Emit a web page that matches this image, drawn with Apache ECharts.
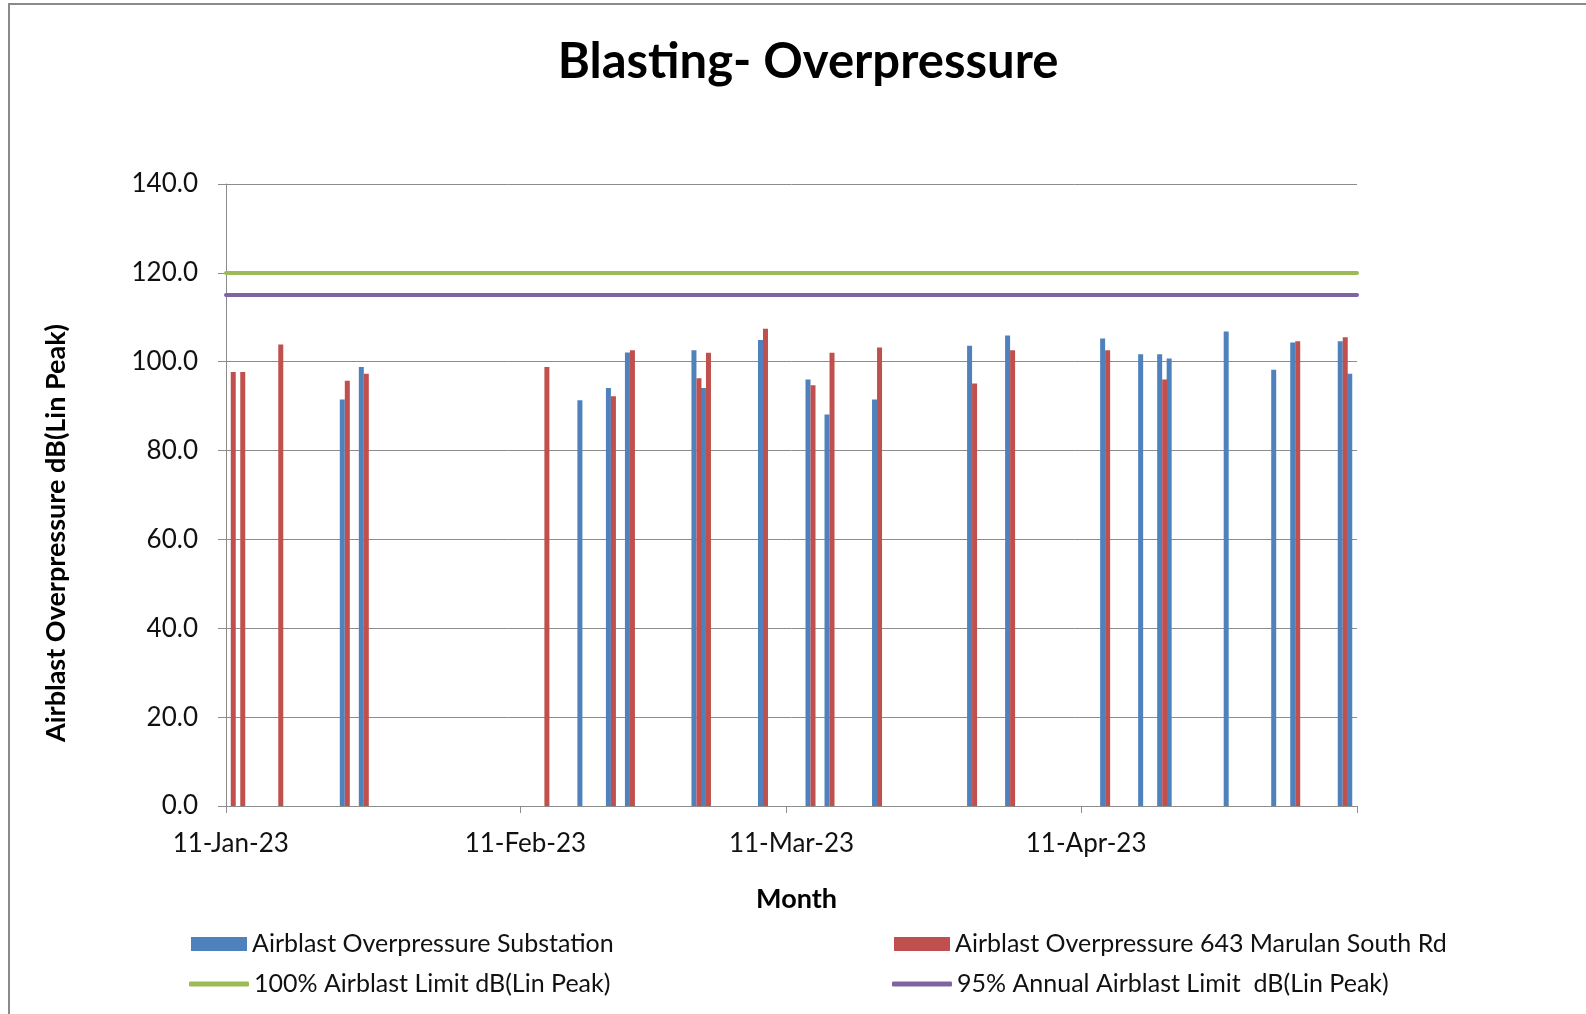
<!DOCTYPE html>
<html>
<head>
<meta charset="utf-8">
<title>Blasting- Overpressure</title>
<script src="https://cdn.jsdelivr.net/npm/echarts@6/dist/echarts.min.js"></script>
<style>
    html, body { margin: 0; padding: 0; background: #fff; }
    #chart { width: 1586px; height: 1014px; }
</style>
</head>
<body>
<div id="chart"></div>
<script>
    // days on which a blast was recorded by either monitor
    var blastDates = ['2023-01-11', '2023-01-12', '2023-01-16', '2023-01-23', '2023-01-25',
        '2023-02-13', '2023-02-17', '2023-02-20', '2023-02-22', '2023-03-01', '2023-03-02',
        '2023-03-08', '2023-03-13', '2023-03-15', '2023-03-20', '2023-03-30', '2023-04-03',
        '2023-04-13', '2023-04-17', '2023-04-19', '2023-04-20', '2023-04-26', '2023-05-01',
        '2023-05-03', '2023-05-08', '2023-05-09'];
    var substation = [null, null, null, 91.5, 98.8,
        null, 91.3, 94.1, 102.1, 102.6, 94.1,
        104.9, 96.0, 88.1, 91.5, 103.6, 105.9,
        105.2, 101.7, 101.7, 100.7, 106.8, 98.2,
        104.3, 104.6, 97.3];
    var marulan = [97.7, 97.7, 103.9, 95.7, 97.3,
        98.8, null, 92.2, 102.6, 96.3, 102.0,
        107.4, 94.7, 102.0, 103.2, 95.1, 102.6,
        102.6, null, 96.0, null, null, null,
        104.6, 105.5, null];
    var limit100 = 120;
    var limit95 = 115;

    // date axis: one slot per day, labelled on the 11th
    var axisStart = '2023-01-11';
    var axisEnd = '2023-05-09';
    var tickDates = ['2023-01-11', '2023-02-11', '2023-03-11', '2023-04-11'];
    var tickLabels = ['11-Jan-23', '11-Feb-23', '11-Mar-23', '11-Apr-23'];

    var names = ['Airblast Overpressure Substation', 'Airblast Overpressure 643 Marulan South Rd',
        '100% Airblast Limit dB(Lin Peak)', '95% Annual Airblast Limit  dB(Lin Peak)'];
    var colors = ['#4F81BD', '#C0504D', '#9BBB59', '#8064A2'];

    var days = [];
    var t = new Date(axisStart + 'T00:00:00Z');
    var tEnd = new Date(axisEnd + 'T00:00:00Z');
    while (t <= tEnd) {
        days.push(t.toISOString().slice(0, 10));
        t = new Date(t.getTime() + 86400000);
    }

    function onDays(values) {
        return days.map(function (d) {
            var i = blastDates.indexOf(d);
            return i < 0 || values[i] == null ? '-' : values[i];
        });
    }

    var font = 'Lato';
    var gray = '#8c8c8c';

    function legendFor(i, left, top, isLine) {
        return {
            data: [{name: names[i], icon: isLine ? 'roundRect' : 'rect'}],
            left: left, top: top, padding: 0,
            itemWidth: isLine ? 60 : 56, itemHeight: isLine ? 5 : 14,
            selectedMode: false,
            textStyle: {fontFamily: font, fontSize: 25, color: '#111', lineHeight: 28}
        };
    }

    var chart = echarts.init(document.getElementById('chart'));
    var option = {
        animation: false,
        backgroundColor: '#fff',
        title: {
            text: 'Blasting- Overpressure',
            left: 803, top: 33, textAlign: 'center',
            textStyle: {fontFamily: font, fontSize: 49, fontWeight: 'bold', color: '#000'}
        },
        graphic: [
            {
                type: 'rect', silent: true,
                shape: {x: 9, y: 4, width: 1700, height: 1200},
                style: {fill: 'none', stroke: '#8a8a8a', lineWidth: 2}
            },
            {
                type: 'text', silent: true,
                x: 56, y: 533, rotation: Math.PI / 2,
                style: {
                    text: 'Airblast Overpressure dB(Lin Peak)',
                    font: 'bold 27px Lato', fill: '#000',
                    align: 'center', verticalAlign: 'middle'
                }
            }
        ],
        legend: [
            legendFor(0, 191, 930, false),
            legendFor(1, 894, 930, false),
            legendFor(2, 189, 970, true),
            legendFor(3, 892, 970, true)
        ],
        grid: {left: 226, right: 229, top: 184, bottom: 208, containLabel: false, outerBoundsMode: 'none'},
        xAxis: {
            type: 'category',
            data: days,
            boundaryGap: true,
            name: 'Month',
            nameLocation: 'middle',
            nameGap: 80,
            nameTextStyle: {fontFamily: font, fontSize: 27, fontWeight: 'bold', color: '#000', padding: [0, 0, 0, 10]},
            axisLine: {show: true, lineStyle: {color: gray, width: 1}},
            axisTick: {
                show: true, length: 7,
                interval: function (idx, value) { return tickDates.indexOf(value) >= 0; },
                lineStyle: {color: gray}
            },
            axisLabel: {
                interval: function (idx, value) { return tickDates.indexOf(value) >= 0; },
                formatter: function (value) { return tickLabels[tickDates.indexOf(value)]; },
                fontFamily: font, fontSize: 26, color: '#111', margin: 25
            },
            splitLine: {show: false}
        },
        yAxis: {
            type: 'value',
            min: 0, max: 140, interval: 20,
            axisLine: {show: true, lineStyle: {color: gray, width: 1}},
            axisTick: {show: true, length: 8, lineStyle: {color: gray}},
            axisLabel: {
                formatter: function (v) { return v.toFixed(1); },
                fontFamily: font, fontSize: 26, color: '#111', margin: 28
            },
            splitLine: {show: true, lineStyle: {color: gray, width: 1}}
        },
        series: [
            {
                name: names[0], type: 'bar', data: onDays(substation),
                barWidth: 5, barGap: '0%', itemStyle: {color: colors[0]}
            },
            {
                name: names[1], type: 'bar', data: onDays(marulan),
                barWidth: 5, barGap: '0%', itemStyle: {color: colors[1]}
            },
            {
                name: names[2], type: 'line', data: [], color: colors[2],
                itemStyle: {color: colors[2]}, lineStyle: {color: colors[2], width: 4},
                markLine: {
                    silent: true, symbol: ['none', 'none'], label: {show: false},
                    lineStyle: {color: colors[2], width: 4, type: 'solid', cap: 'round'},
                    data: [{yAxis: limit100}]
                }
            },
            {
                name: names[3], type: 'line', data: [], color: colors[3],
                itemStyle: {color: colors[3]}, lineStyle: {color: colors[3], width: 4},
                markLine: {
                    silent: true, symbol: ['none', 'none'], label: {show: false},
                    lineStyle: {color: colors[3], width: 4, type: 'solid', cap: 'round'},
                    data: [{yAxis: limit95}]
                }
            }
        ]
    };
    chart.setOption(option);
    window.addEventListener('resize', chart.resize);
</script>
</body>
</html>
